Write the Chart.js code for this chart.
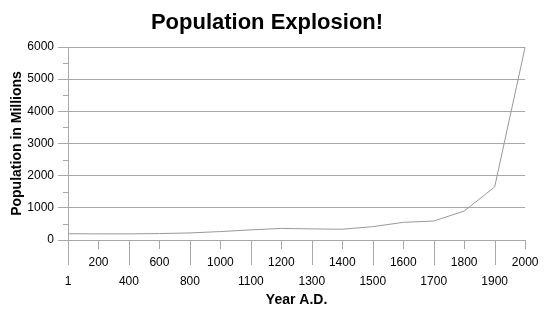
<!DOCTYPE html>
<html>
<head>
<meta charset="utf-8">
<script src="https://cdn.jsdelivr.net/npm/chart.js@4.4.1/dist/chart.umd.min.js"></script>
<style>
    html, body { margin: 0; padding: 0; background: #fff; }
    #wrap { width: 552px; height: 311px; }
</style>
</head>
<body>
<div id="wrap"><canvas id="myChart"></canvas></div>
<script>
    //-------------------------------------------------- data
    var years = ['1', '200', '400', '600', '800', '1000', '1100', '1200', '1300', '1400', '1500', '1600', '1700', '1800', '1900', '2000'];
    var population = [195, 190, 190, 200, 220, 262, 315, 360, 345, 335, 415, 548, 590, 900, 1650, 6000];
    var yTicks = [0, 1000, 2000, 3000, 4000, 5000, 6000];
    //^^^^^^^^^^^^^^^^^^^^^^^^^^^^^^^^^^^^^^^^^^^^^^^^^^ data

    var gridColor = '#a8a8a8';

    // tick marks: long/short on x to reach the staggered labels, minor ticks on y
    var tickMarks = {
        id: 'tickMarks',
        afterDraw: function (chart) {
            var ctx = chart.ctx;
            var x = chart.scales.x, y = chart.scales.y;
            ctx.save();
            ctx.strokeStyle = gridColor;
            ctx.lineWidth = 1;
            ctx.beginPath();
            years.forEach(function (label, i) {
                var px = Math.round(x.getPixelForValue(i)) + 0.5;
                ctx.moveTo(px, y.bottom);
                ctx.lineTo(px, y.bottom + (i % 2 === 0 ? 25 : 9));
            });
            for (var k = 0; k < yTicks.length - 1; k++) {
                var py = Math.round(y.getPixelForValue((yTicks[k] + yTicks[k + 1]) / 2)) + 0.5;
                ctx.moveTo(x.left - 5, py);
                ctx.lineTo(x.left, py);
            }
            ctx.stroke();
            ctx.restore();
        }
    };

    Chart.defaults.font.family = '"Liberation Sans", Arial, sans-serif';
    Chart.defaults.color = '#000';

    new Chart(document.getElementById('myChart'), {
        type: 'line',
        data: {
            labels: years,
            datasets: [{
                label: 'Population',
                data: population,
                borderColor: '#999',
                borderWidth: 1,
                pointRadius: 0,
                tension: 0,
                fill: false
            }]
        },
        options: {
            responsive: true,
            maintainAspectRatio: false,
            animation: false,
            layout: { padding: { left: 8, right: 26, top: 0, bottom: 0 } },
            plugins: {
                legend: { display: false },
                tooltip: { enabled: false },
                title: {
                    display: true,
                    text: 'Population Explosion!',
                    color: '#000',
                    font: { size: 22, weight: 'bold' },
                    padding: { top: 10, bottom: 10.6 }
                }
            },
            scales: {
                x: {
                    type: 'category',
                    offset: false,
                    grid: { drawOnChartArea: false, drawTicks: false },
                    border: { display: true, color: gridColor },
                    ticks: {
                        autoSkip: false,
                        maxRotation: 0,
                        minRotation: 0,
                        padding: 13.5,
                        font: { size: 12, lineHeight: 1.58 },
                        callback: function (value, index) {
                            return index % 2 === 0 ? ['', years[index]] : [years[index], ''];
                        }
                    },
                    title: {
                        display: true,
                        text: 'Year A.D.',
                        font: { size: 14, weight: 'bold', lineHeight: 1 },
                        padding: { top: 0, bottom: 4 }
                    },
                    afterFit: function (scale) { scale.height = 71; }
                },
                y: {
                    min: 0,
                    max: 6000,
                    grid: { color: gridColor, tickLength: 10, tickColor: gridColor },
                    border: { display: true, color: gridColor },
                    ticks: {
                        stepSize: 1000,
                        padding: 4,
                        font: { size: 12 },
                        callback: function (value) { return String(value); }
                    },
                    afterBuildTicks: function (scale) {
                        scale.ticks = yTicks.map(function (v) { return { value: v }; });
                    },
                    title: {
                        display: true,
                        text: 'Population in Millions',
                        font: { size: 14, weight: 'bold', lineHeight: 1 },
                        padding: { top: 2, bottom: 0 }
                    },
                    afterFit: function (scale) { scale.width = 60; }
                }
            }
        },
        plugins: [tickMarks]
    });
</script>
</body>
</html>
